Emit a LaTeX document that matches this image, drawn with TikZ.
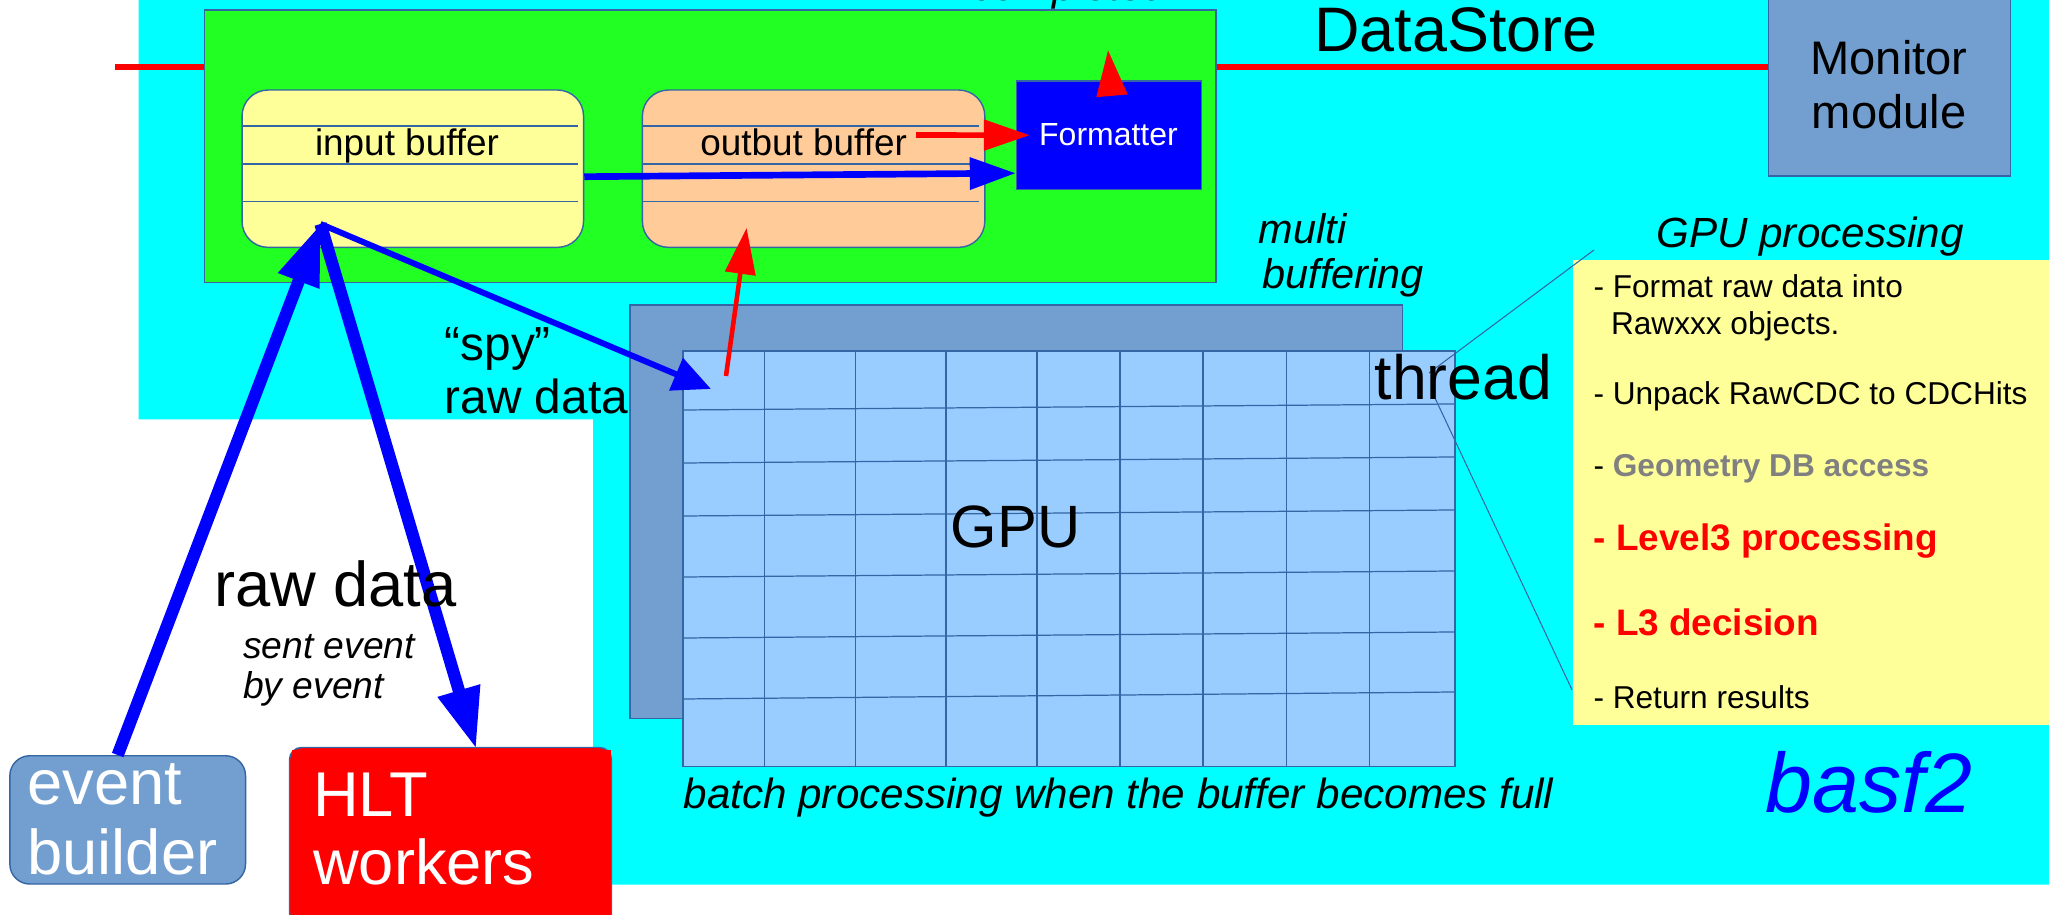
\documentclass[tikz,border=0pt]{standalone}
\usepackage{fontspec}
\setmainfont{Liberation Sans}
\usetikzlibrary{arrows.meta}

\definecolor{cyanbg}{HTML}{00FFFF}
\definecolor{storegreen}{HTML}{22FF22}
\definecolor{bufyellow}{HTML}{FFFF99}
\definecolor{bufpeach}{HTML}{FFCC99}
\definecolor{steel}{HTML}{729FCF}
\definecolor{cellblue}{HTML}{99CCFF}
\definecolor{rimblue}{HTML}{3465A4}
\definecolor{pureblue}{HTML}{0000FF}
\definecolor{purered}{HTML}{FF0000}
\definecolor{dimgrey}{HTML}{808080}

\begin{document}
\begin{tikzpicture}
        [x=0.1mm, y=-0.1mm,
         box/.style={rectangle, draw=rimblue, line width=0.4pt, inner sep=0pt},
         buffer/.style={box, rounded corners=2.6mm},
         rule/.style={draw=rimblue, line width=0.35pt},
         fat/.style={pureblue, line width=3.5pt, -{Triangle[length=6.1mm, width=4.1mm]}},
         spyarrow/.style={pureblue, line width=1.7pt, -{Triangle[length=3.8mm, width=3.4mm]}},
         feed/.style={pureblue, line width=1.9pt, -{Triangle[length=4.6mm, width=3.1mm]}},
         redarrow/.style={purered, line width=1.6pt, -{Triangle[length=4.6mm, width=3mm]}},
         lbl/.style={inner sep=0pt, anchor=base west},
         lblc/.style={inner sep=0pt, anchor=base}]
        \fill[white] (0,0) rectangle (2049,915);
        \useasboundingbox (0,0) rectangle (2049,915);
        \fill[cyanbg] (138.5,-5) -- (2060,-5) -- (2060,884.7) -- (593,884.7)
                -- (593,419.5) -- (138.5,419.5) -- cycle;

        \node[box, fill=steel, minimum width=24.2mm, minimum height=20mm] (monitor) at (1889.5,76) {};
        \coordinate (dsfeed) at (115,66.7);
        \draw[purered, line width=1.7pt] (dsfeed) -- (dsfeed -| monitor.west);

        \node[box, fill=storegreen, minimum width=101.15mm, minimum height=27.23mm] (store) at (710.3,146.2) {};
        \node[buffer, fill=bufyellow, minimum width=34.15mm, minimum height=15.73mm] (inbuf) at (412.8,168.7) {};
        \node[buffer, fill=bufpeach, minimum width=34.24mm, minimum height=15.73mm] (outbuf) at (813.6,168.7) {};
        \foreach \y in {126,164,201.7} {
                \draw[rule] (242,\y) -- (577.7,\y);
                \draw[rule] (642.4,\y) -- (978.6,\y);
        }
        \node[box, fill=pureblue, minimum width=18.48mm, minimum height=10.83mm] (fmt) at (1108.9,135.2) {};

        \node[box, fill=steel, minimum width=77.25mm, minimum height=41.35mm] (gpuback) at (1016.3,511.8) {};
        \node[box, fill=cellblue, minimum width=77.2mm, minimum height=41.56mm] (gpu) at (1069,558.8) {};
        \foreach \x in {764.7,855.5,946,1037,1120,1203,1286.6,1369.8}
                \draw[rule] (\x,351) -- (\x,766.6);
        \foreach \a/\b in {410/404,463/457,516/510,577/571,638/632,699/692}
                \draw[rule] (683,\a) -- (1455,\b);

        \node[rectangle, fill=bufyellow, inner sep=0pt, minimum width=48.72mm, minimum height=46.55mm] (panel) at (1816.4,492.3) {};
        \coordinate (callA) at (1594,250);
        \coordinate (callB) at (1429,373);
        \coordinate (callC) at (1435,398);
        \draw[rimblue, line width=0.3pt] (callA) -- (callB);
        \draw[rimblue, line width=0.3pt] (callC) -- (panel.west |- 0,690);

        \node[buffer, fill=steel, rounded corners=2mm, minimum width=23.57mm, minimum height=12.83mm] (evb) at (127.7,819.9) {};
        \draw[rimblue, fill=purered, rounded corners=1.2mm] (289.5,747.5) rectangle (611.5,925);
        \node[rectangle, fill=purered, inner sep=0pt, minimum width=31.9mm, minimum height=17.5mm, anchor=north west] (hlt) at (291,749) {};

        \coordinate (hub) at (320.5,224);
        \coordinate (spyend) at (711,389);
        \coordinate (outred) at (916,135);
        \coordinate (dsup) at (1108,50);
        \coordinate (gpured) at (726,376);
        \draw[fat] ([xshift=-1mm]evb.north) -- (hub);
        \draw[fat] (hub) -- ([xshift=2.5mm]hlt.north);
        \draw[spyarrow] (hub) -- (spyend);
        \draw[feed] ([yshift=-0.8mm]inbuf.east) -- ([yshift=-3.8mm]fmt.west);
        \draw[redarrow] (outred) -- ([xshift=1.4mm]fmt.west);
        \draw[redarrow] ([shift={(0.3mm,-1.4mm)}]fmt.north) -- (dsup);
        \draw[redarrow, line width=1.3pt] (gpured) -- ([shift={(-6.7mm,2mm)}]outbuf.south);

        \node[lbl, font=\fontsize{12}{14}\itshape] at (972,1) {completed};
        \node[lblc, font=\fontsize{17.9}{20}\selectfont] at (1456,51.7) {DataStore};
        \node[lblc, font=\fontsize{13.4}{15}\selectfont] at (1889,75) {Monitor};
        \node[lblc, font=\fontsize{13.4}{15}\selectfont] at (1889,128.3) {module};
        \node[lblc, font=\fontsize{10.5}{12}\selectfont] at (407,156) {input buffer};
        \node[lblc, font=\fontsize{10.5}{12}\selectfont] at (803.6,156) {outbut buffer};
        \node[lblc, font=\fontsize{9.1}{11}\selectfont, text=white] at (1108.5,145.7) {Formatter};

        \node[lbl, font=\fontsize{11.8}{14}\itshape] at (1258,243.3) {multi};
        \node[lbl, font=\fontsize{11.8}{14}\itshape] at (1261.7,288.3) {buffering};
        \node[lbl, font=\fontsize{17.8}{20}\selectfont] at (1374,400) {thread};
        \node[lblc, font=\fontsize{17}{20}\selectfont] at (1015.5,548) {GPU};
        \node[lbl, font=\fontsize{12}{14}\itshape] at (683,808.3) {batch processing when the buffer becomes full};
        \node[lbl, font=\fontsize{24}{28}\itshape, text=pureblue] at (1765,813) {basf2};

        \node[lblc, font=\fontsize{12}{14}\itshape] at (1810,247.3) {GPU processing};
        \node[lbl, font=\fontsize{9}{11}\selectfont] at (1592.8,298) {- Format raw data into};
        \node[lbl, font=\fontsize{9}{11}\selectfont] at (1610.3,334.1) {Rawxxx objects.};
        \node[lbl, font=\fontsize{9}{11}\selectfont] at (1592.8,404.1) {- Unpack RawCDC to CDCHits};
        \node[lbl, font=\fontsize{9}{11}\selectfont] at (1592.8,476.6) {- \textcolor{dimgrey}{\bfseries Geometry DB access}};
        \node[lbl, font=\fontsize{10.5}{12}\bfseries, text=purered] at (1592.8,550.1) {- Level3 processing};
        \node[lbl, font=\fontsize{10.5}{12}\bfseries, text=purered] at (1592.8,636) {- L3 decision};
        \node[lbl, font=\fontsize{9}{11}\selectfont] at (1592.8,708.4) {- Return results};

        \node[lbl, font=\fontsize{13.6}{16}\selectfont] at (444,361) {“spy”};
        \node[lbl, font=\fontsize{13.6}{16}\selectfont] at (444,413.6) {raw data};
        \node[lbl, font=\fontsize{18}{21}\selectfont] at (213.4,607) {raw data};
        \node[lbl, font=\fontsize{10.6}{12}\itshape] at (242.4,658.5) {sent event};
        \node[lbl, font=\fontsize{10.6}{12}\itshape] at (242.4,699) {by event};

        \node[lbl, font=\fontsize{18}{21}\selectfont, text=white] at (26.8,805) {event};
        \node[lbl, font=\fontsize{18}{21}\selectfont, text=white] at (26.8,875) {builder};
        \node[lbl, font=\fontsize{18}{21}\selectfont, text=white] at (312.5,816.4) {HLT};
        \node[lbl, font=\fontsize{18}{21}\selectfont, text=white] at (312.5,885) {workers};
\end{tikzpicture}
\end{document}
